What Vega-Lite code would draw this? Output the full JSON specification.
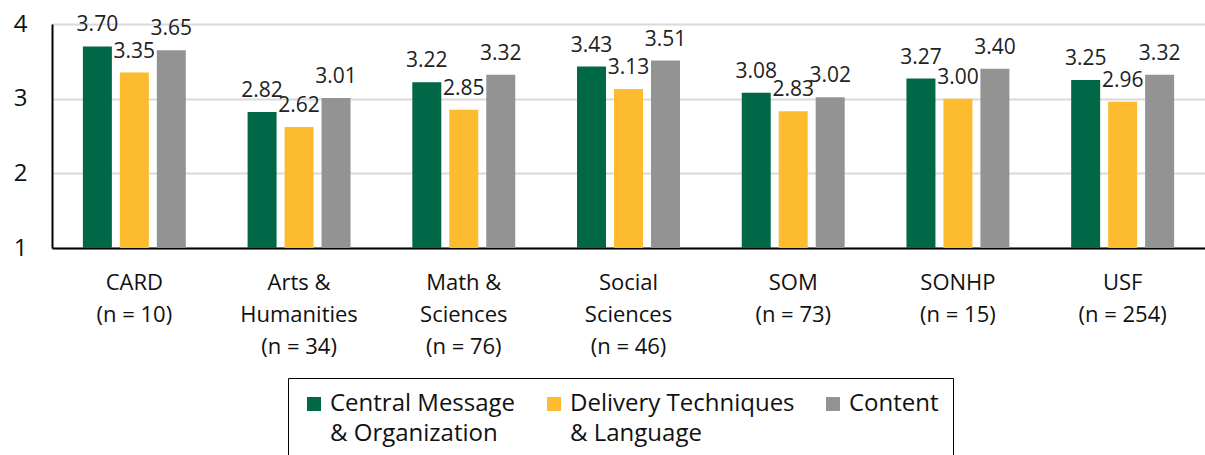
{
  "$schema": "https://vega.github.io/schema/vega-lite/v6.json",
  "width": 1153,
  "height": 224,
  "autosize": "none",
  "padding": {"left": 52, "top": 24, "right": 0, "bottom": 207},
  "background": "white",
  "config": {
    "font": "Open Sans",
    "view": {"stroke": null},
    "axis": {"zindex": 1},
    "style": {"guide-label": {"lineHeight": 30}}
  },
  "data": {
    "values": [
      {"group": "CARD|(n = 10)", "series": "Central Message|& Organization", "value": 3.70},
      {"group": "CARD|(n = 10)", "series": "Delivery Techniques|& Language", "value": 3.35},
      {"group": "CARD|(n = 10)", "series": "Content", "value": 3.65},
      {"group": "Arts &|Humanities|(n = 34)", "series": "Central Message|& Organization", "value": 2.82},
      {"group": "Arts &|Humanities|(n = 34)", "series": "Delivery Techniques|& Language", "value": 2.62},
      {"group": "Arts &|Humanities|(n = 34)", "series": "Content", "value": 3.01},
      {"group": "Math &|Sciences|(n = 76)", "series": "Central Message|& Organization", "value": 3.22},
      {"group": "Math &|Sciences|(n = 76)", "series": "Delivery Techniques|& Language", "value": 2.85},
      {"group": "Math &|Sciences|(n = 76)", "series": "Content", "value": 3.32},
      {"group": "Social|Sciences|(n = 46)", "series": "Central Message|& Organization", "value": 3.43},
      {"group": "Social|Sciences|(n = 46)", "series": "Delivery Techniques|& Language", "value": 3.13},
      {"group": "Social|Sciences|(n = 46)", "series": "Content", "value": 3.51},
      {"group": "SOM|(n = 73)", "series": "Central Message|& Organization", "value": 3.08},
      {"group": "SOM|(n = 73)", "series": "Delivery Techniques|& Language", "value": 2.83},
      {"group": "SOM|(n = 73)", "series": "Content", "value": 3.02},
      {"group": "SONHP|(n = 15)", "series": "Central Message|& Organization", "value": 3.27},
      {"group": "SONHP|(n = 15)", "series": "Delivery Techniques|& Language", "value": 3.00},
      {"group": "SONHP|(n = 15)", "series": "Content", "value": 3.40},
      {"group": "USF|(n = 254)", "series": "Central Message|& Organization", "value": 3.25},
      {"group": "USF|(n = 254)", "series": "Delivery Techniques|& Language", "value": 2.96},
      {"group": "USF|(n = 254)", "series": "Content", "value": 3.32}
    ]
  },
  "encoding": {
    "x": {
      "field": "group",
      "type": "nominal",
      "sort": null,
      "scale": {"paddingInner": 0.375, "paddingOuter": 0.1875},
      "axis": {
        "title": null,
        "labelAngle": 0,
        "labelExpr": "split(datum.label, '|')",
        "labelFontSize": 22,
        "labelLineHeight": 32,
        "labelPadding": 24,
        "labelColor": "#111111",
        "ticks": false,
        "domainColor": "black",
        "domainWidth": 2,
        "labelLimit": 300
      }
    },
    "xOffset": {
      "field": "series",
      "type": "nominal",
      "sort": null,
      "scale": {"paddingInner": 0.216, "paddingOuter": 0}
    },
    "y": {
      "field": "value",
      "type": "quantitative",
      "scale": {"domain": [1, 4], "nice": false, "zero": false},
      "axis": {
        "title": null,
        "values": [1, 2, 3, 4],
        "format": ".0f",
        "labelFontSize": 24,
        "labelPadding": 25,
        "labelColor": "#111111",
        "ticks": false,
        "domainColor": "black",
        "domainWidth": 2,
        "gridColor": "#d9d9d9",
        "gridWidth": 2
      }
    }
  },
  "layer": [
    {
      "mark": {"type": "bar"},
      "encoding": {
        "y2": {"datum": 1},
        "color": {
          "field": "series",
          "type": "nominal",
          "sort": null,
          "scale": {
            "domain": ["Central Message|& Organization", "Delivery Techniques|& Language", "Content"],
            "range": ["#006747", "#FDBB30", "#939393"]
          },
          "legend": {
            "title": null,
            "orient": "none",
            "legendX": 236,
            "legendY": 354,
            "direction": "horizontal",
            "columns": 3,
            "columnPadding": 26,
            "symbolType": "square",
            "symbolSize": 196,
            "symbolStrokeWidth": 0,
            "labelFontSize": 24,
            "labelColor": "#111111",
            "labelOffset": 4,
            "labelExpr": "indexof(datum.label, '|') < 0 ? [datum.label, ' '] : split(datum.label, '|')",
            "labelLimit": 400,
            "strokeColor": "black",
            "padding": 14
          }
        }
      }
    },
    {
      "mark": {"type": "text", "baseline": "bottom", "dy": -11, "fontSize": 21, "color": "#222222"},
      "encoding": {
        "text": {"field": "value", "type": "quantitative", "format": ".2f"}
      }
    }
  ]
}
